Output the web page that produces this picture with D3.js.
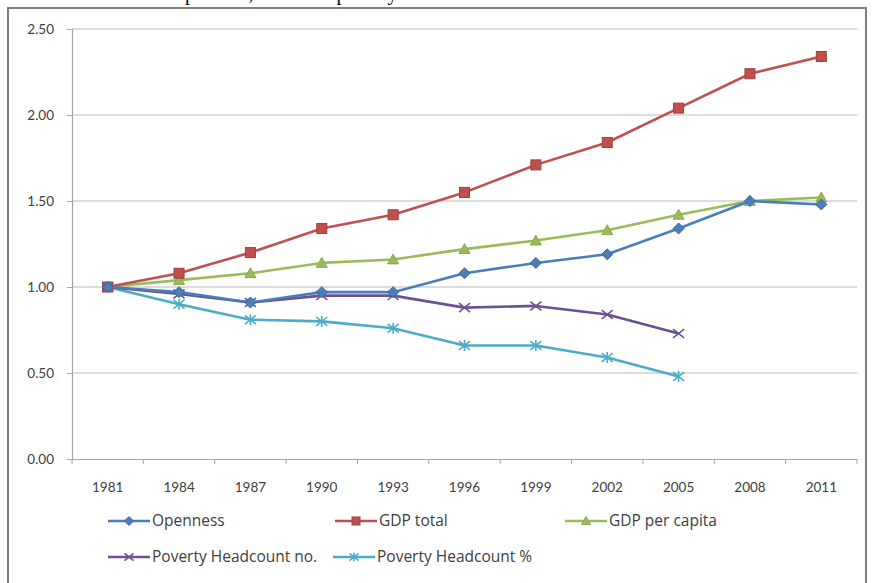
<!DOCTYPE html>
<html>
<head>
<meta charset="utf-8">
<script src="https://cdn.jsdelivr.net/npm/d3@7"></script>
<style>
  body { margin: 0; background: #fff; }
  text { font-family: Lato, "Open Sans", sans-serif; }
</style>
</head>
<body>
<svg width="872" height="583"></svg>
<script>
// data
var years = ["1981", "1984", "1987", "1990", "1993", "1996", "1999", "2002", "2005", "2008", "2011"];
var openness = [1.00, 0.97, 0.91, 0.97, 0.97, 1.08, 1.14, 1.19, 1.34, 1.50, 1.48];
var gdpTotal = [1.00, 1.08, 1.20, 1.34, 1.42, 1.55, 1.71, 1.84, 2.04, 2.24, 2.34];
var gdpPerCapita = [1.00, 1.04, 1.08, 1.14, 1.16, 1.22, 1.27, 1.33, 1.42, 1.50, 1.52];
var povertyNo = [1.00, 0.96, 0.91, 0.95, 0.95, 0.88, 0.89, 0.84, 0.73];
var povertyPct = [1.00, 0.90, 0.81, 0.80, 0.76, 0.66, 0.66, 0.59, 0.48];
var yTicks = [0, 0.5, 1, 1.5, 2, 2.5];

var series = [
  {name: "Openness", values: openness, color: "#4a7ebb", shape: "diamond"},
  {name: "GDP total", values: gdpTotal, color: "#c0504d", shape: "square"},
  {name: "GDP per capita", values: gdpPerCapita, color: "#9bbb59", shape: "triangle"},
  {name: "Poverty Headcount no.", values: povertyNo, color: "#6a5290", shape: "x"},
  {name: "Poverty Headcount %", values: povertyPct, color: "#4bacc6", shape: "asterisk"}
];

(function () {
  var svg = d3.select("svg");

  // cut off title of the page above the chart
  svg.append("text")
      .attr("x", 175).attr("y", 0)
      .attr("text-anchor", "end")
      .style("font-family", "'Liberation Serif', serif").style("font-size", "20px")
      .text("Trends in ");
  svg.append("text")
      .attr("x", 175).attr("y", 0)
      .style("font-family", "'Liberation Serif', serif").style("font-size", "20px")
      .text("openness, GDP and poverty");

  // chart frame
  svg.append("rect")
      .attr("x", 8).attr("y", 8)
      .attr("width", 858).attr("height", 600)
      .attr("fill", "#fff")
      .attr("stroke", "#7f7f7f").attr("stroke-width", 2);

  var plotLeft = 72, plotRight = 857, plotTop = 29, plotBottom = 459;

  var x = d3.scaleBand().domain(years).range([plotLeft, plotRight]);
  var y = d3.scaleLinear().domain([0, 2.5]).range([plotBottom, plotTop]);

  // gridlines
  svg.append("g").selectAll("line")
      .data(yTicks.slice(1))
      .enter().append("line")
      .attr("x1", plotLeft).attr("x2", plotRight)
      .attr("y1", d => y(d)).attr("y2", d => y(d))
      .attr("stroke", "#b9b9b9").attr("stroke-width", 1.2);

  // y axis
  var yAxis = svg.append("g")
      .attr("transform", "translate(" + plotLeft + ",0)")
      .call(d3.axisLeft(y).tickValues(yTicks).tickFormat(d3.format(".2f")).tickSize(5).tickPadding(13));
  yAxis.select(".domain").attr("stroke", "#a6a6a6").attr("stroke-width", 1.2);
  yAxis.selectAll(".tick line").attr("stroke", "#a6a6a6");
  yAxis.selectAll("text").attr("fill", "#404040").style("font-size", "13.5px")
      .style("font-family", "Lato, sans-serif");

  // x axis
  var xAxis = svg.append("g")
      .attr("transform", "translate(0," + plotBottom + ")")
      .call(d3.axisBottom(x).tickSize(0).tickPadding(23));
  xAxis.select(".domain").attr("stroke", "#a6a6a6").attr("stroke-width", 1.2);
  xAxis.selectAll("text").attr("fill", "#404040").style("font-size", "13.5px")
      .style("font-family", "Lato, sans-serif");
  // tick marks between categories
  xAxis.selectAll(".sep")
      .data(years.concat(["end"]))
      .enter().append("line")
      .attr("class", "sep")
      .attr("x1", (d, i) => plotLeft + i * x.step()).attr("x2", (d, i) => plotLeft + i * x.step())
      .attr("y1", 0).attr("y2", 5)
      .attr("stroke", "#a6a6a6");

  function marker(g, shape, color, size) {
    var s = size / 2;
    if (shape === "diamond") {
      g.append("path").attr("d", "M0," + (-s) + "L" + s + ",0L0," + s + "L" + (-s) + ",0Z")
        .attr("fill", color).attr("stroke", d3.color(color).darker(0.6));
    } else if (shape === "square") {
      g.append("rect").attr("x", -s + 0.5).attr("y", -s + 0.5).attr("width", size - 1).attr("height", size - 1)
        .attr("fill", color).attr("stroke", d3.color(color).darker(0.6));
    } else if (shape === "triangle") {
      g.append("path").attr("d", "M0," + (-s) + "L" + s + "," + (s * 0.8) + "L" + (-s) + "," + (s * 0.8) + "Z")
        .attr("fill", color).attr("stroke", d3.color(color).darker(0.3));
    } else if (shape === "x") {
      g.append("path").attr("d", "M" + (-s) + "," + (-s * 0.8) + "L" + s + "," + (s * 0.8) + "M" + (-s) + "," + (s * 0.8) + "L" + s + "," + (-s * 0.8))
        .attr("stroke", color).attr("stroke-width", 1.6).attr("fill", "none");
    } else {
      g.append("path").attr("d", "M" + (-s) + "," + (-s * 0.8) + "L" + s + "," + (s * 0.8) + "M" + (-s) + "," + (s * 0.8) + "L" + s + "," + (-s * 0.8) + "M0," + (-s) + "L0," + s)
        .attr("stroke", color).attr("stroke-width", 1.6).attr("fill", "none");
    }
  }

  var line = d3.line()
      .x((d, i) => x(years[i]) + x.bandwidth() / 2)
      .y(d => y(d));

  // draw in reverse so Openness sits on top
  series.slice().reverse().forEach(function (s) {
    svg.append("path")
        .datum(s.values)
        .attr("fill", "none")
        .attr("stroke", s.color)
        .attr("stroke-width", 2.6)
        .attr("stroke-linejoin", "round")
        .attr("d", line);
    s.values.forEach(function (v, i) {
      var g = svg.append("g")
          .attr("transform", "translate(" + (x(years[i]) + x.bandwidth() / 2) + "," + y(v) + ")");
      marker(g, s.shape, s.color, 11);
    });
  });

  // legend
  var legendPos = [[108, 521], [335, 521], [565, 521], [108, 557], [333, 557]];
  series.forEach(function (s, i) {
    var g = svg.append("g").attr("transform", "translate(" + legendPos[i][0] + "," + legendPos[i][1] + ")");
    g.append("line").attr("x1", 0).attr("x2", 42).attr("y1", 0).attr("y2", 0)
        .attr("stroke", s.color).attr("stroke-width", 2.6);
    var m = g.append("g").attr("transform", "translate(21,0)");
    marker(m, s.shape, s.color, 9);
    g.append("text").attr("x", 44).attr("y", 5)
        .attr("fill", "#404040")
        .style("font-family", "'Open Sans', sans-serif").style("font-size", "15.5px")
        .text(s.name);
  });
})();
</script>
</body>
</html>
